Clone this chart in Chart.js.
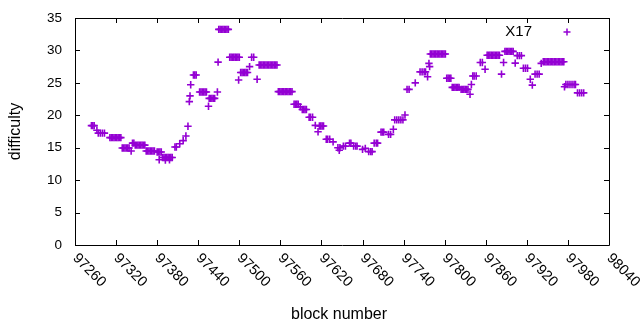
<!DOCTYPE html>
<html>
<head>
<meta charset="utf-8">
<script src="https://cdn.jsdelivr.net/npm/chart.js@4/dist/chart.umd.min.js"></script>
<style>
html,body{margin:0;padding:0;background:#fff;}
#wrap{width:640px;height:330px;}
</style>
</head>
<body>
<div id="wrap"><canvas id="c" width="640" height="330"></canvas></div>
<script>
// ---- data ----
const seriesName = "X17";
const blocks = [
97284,97286,97288,97292,97294,97297,97300,97303,
97311,97313,97315,97317,97319,97321,97323,97325,97327,
97329,97331,97333,97335,97337,97339,97342,97344,97346,
97348,97350,97352,97354,97356,97358,97360,97362,
97364,97366,97368,97370,97372,97374,97376,97380,97382,97384,97386,97383,
97388,97390,97392,97394,97396,97398,97400,97402,97392,97398,
97406,97408,97413,97418,97422,97425,97427,97428,97429,
97433,97435,97437,97442,97444,97446,97448,97450,97452,97455,
97456,97458,97460,97462,97464,97468,97469,
97470,97472,97474,97476,97478,97480,97482,97484,
97486,97488,97490,97492,97494,97496,97498,97500,97499,
97502,97504,97506,97508,97510,97512,97515,97518,97521,97526,
97529,97531,97533,97535,97537,97539,97541,97543,97545,97547,97549,97551,97553,97555,
97557,97559,97561,97563,97565,97567,97569,97571,97573,97575,97577,
97580,97582,97584,97586,97589,97592,97594,97596,97598,
97602,97604,97607,97611,97615,97617,97619,97621,97623,
97627,97629,97632,97637,97644,97647,97646,97652,97655,97661,97663,
97667,97670,97672,97680,97684,97689,97692,97694,97697,97700,97702,
97707,97709,97711,97718,97721,97725,97727,97730,97733,97736,97739,
97742,97745,97748,97757,97764,97767,97770,97772,97775,97777,97778,
97779,97781,97783,97785,97787,97789,97791,97793,97795,97797,97799,97801,
97803,97805,97807,97809,97811,97813,97815,97817,97819,97821,
97824,97826,97828,97830,97832,97834,97837,97839,97841,97843,97846,
97852,97855,97859,
97862,97864,97866,97868,97870,97872,97874,97876,97878,97880,
97883,97886,97888,97890,97892,97894,97896,97898,97900,97903,
97906,97909,97912,97915,97918,97921,97925,97928,97932,97935,97938,97941,
97944,97946,97948,97950,97952,97954,97956,97958,97960,97962,97964,97966,97968,97970,97972,97974,
97975,97977,97980,97983,97986,97989,97991,97994,97997,98000,98003
];
const difficulty = [
18.4,18.4,18.4,17.7,17.25,17.25,17.25,17.25,
16.55,16.55,16.55,16.55,16.55,16.55,16.55,16.55,16.55,
14.95,14.95,14.95,14.95,14.95,14.95,14.5,15.7,15.7,
15.4,15.4,15.4,15.4,15.4,15.4,15.4,15.4,
14.5,14.5,14.5,14.5,14.5,14.5,14.5,14.35,14.35,14.35,14.35,13.15,
13.5,13.5,13.5,13.5,13.5,13.5,13.5,13.5,13.1,13.15,
15.1,15.1,15.6,16.1,16.8,18.3,22.1,23.0,24.7,
26.2,26.2,26.2,23.6,23.6,23.6,23.6,23.6,23.6,21.4,
22.6,22.6,22.6,22.6,22.6,23.6,28.2,
33.25,33.25,33.25,33.25,33.25,33.25,33.25,33.25,
28.95,28.95,28.95,28.95,28.95,28.95,28.95,28.95,25.45,
26.6,26.6,26.6,26.6,26.6,26.6,27.5,28.95,28.95,25.55,
27.75,27.75,27.75,27.75,27.75,27.75,27.75,27.75,27.75,27.75,27.75,27.75,27.75,27.75,
23.65,23.65,23.65,23.65,23.65,23.65,23.65,23.65,23.65,23.65,23.65,
21.7,21.7,21.7,21.7,21.3,20.9,20.9,20.9,20.9,
19.7,19.7,19.7,18.45,17.45,18.35,18.35,18.35,18.35,
16.3,16.3,16.3,15.9,15.0,15.0,14.6,15.25,15.25,15.7,15.7,
15.25,15.25,15.25,14.75,14.9,14.4,14.4,14.4,15.7,15.7,15.7,
17.4,17.4,17.4,17.05,17.05,17.85,19.3,19.3,19.3,19.3,19.3,
20.05,24.0,24.0,25.0,26.7,26.7,26.7,26.7,25.95,28.0,27.5,
29.45,29.45,29.45,29.45,29.45,29.45,29.45,29.45,29.45,29.45,29.45,29.45,
25.7,25.7,25.7,25.7,24.3,24.3,24.3,24.3,24.3,24.3,
24.0,24.0,24.0,24.0,24.0,24.0,23.25,24.75,26.05,26.05,26.05,
28.15,28.15,27.1,
29.25,29.25,29.25,29.25,29.25,29.25,29.25,29.25,29.25,29.25,
26.35,28.15,29.85,29.85,29.85,29.85,29.85,29.85,29.85,28.05,
29.2,29.2,29.2,27.25,27.25,27.25,25.55,24.65,26.35,26.35,26.35,28.0,
28.25,28.25,28.25,28.25,28.25,28.25,28.25,28.25,28.25,28.25,28.25,28.25,28.25,28.25,28.25,28.25,
24.4,24.75,24.75,24.75,24.75,24.75,24.75,23.45,23.45,23.45,23.45
];
const xTicks = [97260,97320,97380,97440,97500,97560,97620,97680,97740,97800,97860,97920,97980,98040];
const yTicks = [0,5,10,15,20,25,30,35];
const xTitle = "block number";
const yTitle = "difficulty";

const COLOR = "#9400d3";
const FAM = '"Liberation Sans", Arial, sans-serif';

const points = blocks.map((b, i) => ({x: b, y: difficulty[i]}));

const gnuplotFrame = {
  id: 'gnuplotFrame',
  afterDraw(chart) {
    const ctx = chart.ctx;
    const xs = chart.scales.x, ys = chart.scales.y;
    const L = xs.left, R = xs.right, T = ys.top, B = ys.bottom;
    ctx.save();
    ctx.strokeStyle = '#000';
    ctx.lineWidth = 1;
    ctx.beginPath();
    ctx.rect(Math.round(L) + 0.5, Math.round(T) + 0.5, Math.round(R - L), Math.round(B - T));
    ctx.stroke();
    const tl = 5;
    ctx.beginPath();
    xTicks.forEach(v => {
      const px = Math.round(xs.getPixelForValue(v)) + 0.5;
      ctx.moveTo(px, B); ctx.lineTo(px, B - tl);
      ctx.moveTo(px, T); ctx.lineTo(px, T + tl);
    });
    yTicks.forEach(v => {
      const py = Math.round(ys.getPixelForValue(v)) + 0.5;
      ctx.moveTo(L, py); ctx.lineTo(L + tl, py);
      ctx.moveTo(R, py); ctx.lineTo(R - tl, py);
    });
    ctx.stroke();
    ctx.fillStyle = '#000';
    ctx.font = '13.5px ' + FAM;
    ctx.textAlign = 'right';
    ctx.textBaseline = 'middle';
    yTicks.forEach(v => {
      ctx.fillText(String(v), L - 13, ys.getPixelForValue(v));
    });
    ctx.font = '14.5px ' + FAM;
    xTicks.forEach(v => {
      const px = xs.getPixelForValue(v);
      ctx.save();
      ctx.translate(px, B + 11);
      ctx.rotate(Math.PI / 4);
      ctx.textAlign = 'left';
      ctx.textBaseline = 'middle';
      ctx.fillText(String(v), 0, 0);
      ctx.restore();
    });
    ctx.font = '16px ' + FAM;
    ctx.textAlign = 'center';
    ctx.textBaseline = 'middle';
    ctx.fillText(xTitle, 339, 315);
    ctx.save();
    ctx.translate(16, (T + B) / 2);
    ctx.rotate(-Math.PI / 2);
    ctx.fillText(yTitle, 0, 0);
    ctx.restore();
    // legend
    ctx.font = '15px ' + FAM;
    ctx.textAlign = 'right';
    ctx.fillText(seriesName, 532, 32);
    ctx.strokeStyle = COLOR;
    ctx.lineWidth = 1.5;
    ctx.beginPath();
    ctx.moveTo(563.5, 32); ctx.lineTo(570.5, 32);
    ctx.moveTo(567, 28.5); ctx.lineTo(567, 35.5);
    ctx.stroke();
    ctx.restore();
  }
};

new Chart(document.getElementById('c'), {
  type: 'scatter',
  data: {
    datasets: [{
      label: seriesName,
      data: points,
      pointStyle: 'cross',
      pointRadius: 3.7,
      pointHoverRadius: 3.7,
      borderColor: COLOR,
      backgroundColor: COLOR,
      pointBorderWidth: 1.6,
      showLine: false
    }]
  },
  options: {
    responsive: false,
    animation: false,
    events: [],
    layout: {padding: {top: 18, right: 31, left: 0, bottom: 0}},
    plugins: {legend: {display: false}, tooltip: {enabled: false}},
    scales: {
      x: {
        type: 'linear', min: 97260, max: 98040,
        ticks: {display: false, stepSize: 60},
        grid: {display: false}, border: {display: false},
        afterFit(s) { s.height = 85; }
      },
      y: {
        type: 'linear', min: 0, max: 35,
        ticks: {display: false, stepSize: 5},
        grid: {display: false}, border: {display: false},
        afterFit(s) { s.width = 75; }
      }
    }
  },
  plugins: [gnuplotFrame]
});
</script>
</body>
</html>
